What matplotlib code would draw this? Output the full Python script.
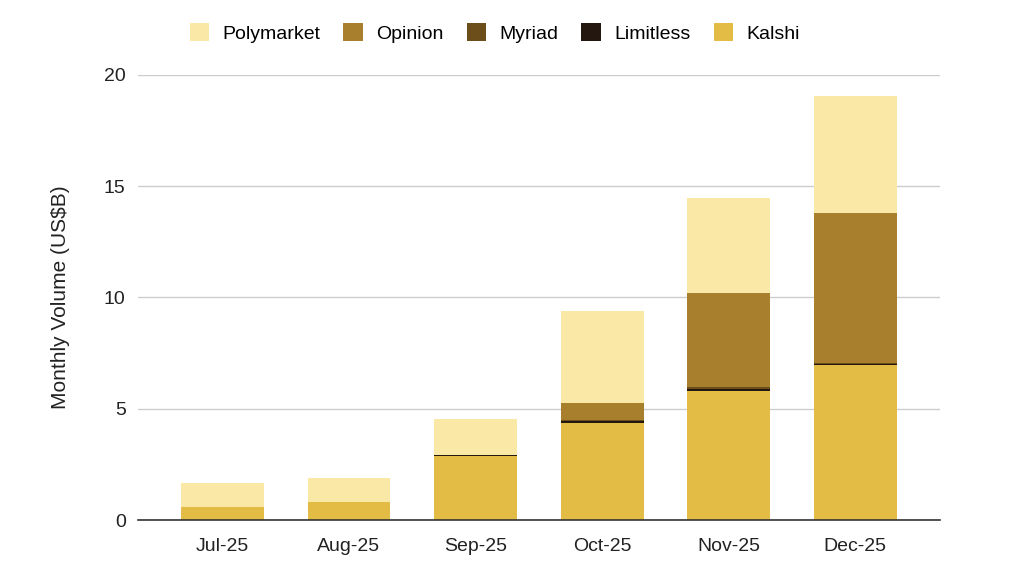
import matplotlib.pyplot as plt
import numpy as np

plt.rcParams["font.family"] = ["Liberation Sans", "DejaVu Sans"]

# ==============================
# Data (US$B, monthly volume)
# ==============================
months = ["Jul-25", "Aug-25", "Sep-25", "Oct-25", "Nov-25", "Dec-25"]
kalshi = [0.60, 0.82, 2.87, 4.38, 5.80, 6.95]
limitless = [0.00, 0.00, 0.05, 0.08, 0.08, 0.08]
myriad = [0.00, 0.00, 0.00, 0.02, 0.10, 0.03]
opinion = [0.00, 0.00, 0.00, 0.78, 4.20, 6.72]
polymarket = [1.08, 1.07, 1.62, 4.13, 4.28, 5.28]

# bottom -> top
series = [
    ("Kalshi", kalshi, "#E3BC45"),
    ("Limitless", limitless, "#24170F"),
    ("Myriad", myriad, "#6B4E1A"),
    ("Opinion", opinion, "#A87F2C"),
    ("Polymarket", polymarket, "#F9E8A6"),
]

# ==============================
# Plot
# ==============================
fig = plt.figure(figsize=(10.24, 5.68), dpi=100)
ax = fig.add_axes([0.135, 0.0845, 0.783, 0.7835])

x = np.arange(len(months))
bottom = np.zeros(len(months))
handles = {}
for name, vals, color in series:
    vals = np.array(vals)
    b = ax.bar(x, vals, 0.655, bottom=bottom, color=color, zorder=3, label=name)
    handles[name] = b
    bottom += vals

ax.set_xlim(-0.665, 5.67)
ax.set_ylim(0, 20)
ax.set_yticks([0, 5, 10, 15, 20])
ax.set_xticks(x)
ax.set_xticklabels(months)
ax.tick_params(axis="both", length=0, labelsize=14, colors="#222222")
ax.tick_params(axis="y", pad=9)
ax.tick_params(axis="x", pad=13)
ax.grid(axis="y", color="#cccccc", linewidth=1, zorder=0)
for s in ["top", "right", "left"]:
    ax.spines[s].set_visible(False)
ax.spines["bottom"].set_color("#333333")
ax.spines["bottom"].set_linewidth(1.2)
ax.spines["bottom"].set_zorder(4)

ax.set_ylabel("Monthly Volume (US$B)", fontsize=15, color="#222222")
ax.yaxis.set_label_coords(-0.085, 0.5)

order = ["Polymarket", "Opinion", "Myriad", "Limitless", "Kalshi"]
fig.legend(
    [handles[n] for n in order], order,
    loc="center", bbox_to_anchor=(0.483, 0.942), ncol=5, frameon=False,
    fontsize=14, handlelength=1.0, handleheight=1.0, columnspacing=1.2,
    handletextpad=0.67,
)

plt.savefig("out.png", dpi=100)
